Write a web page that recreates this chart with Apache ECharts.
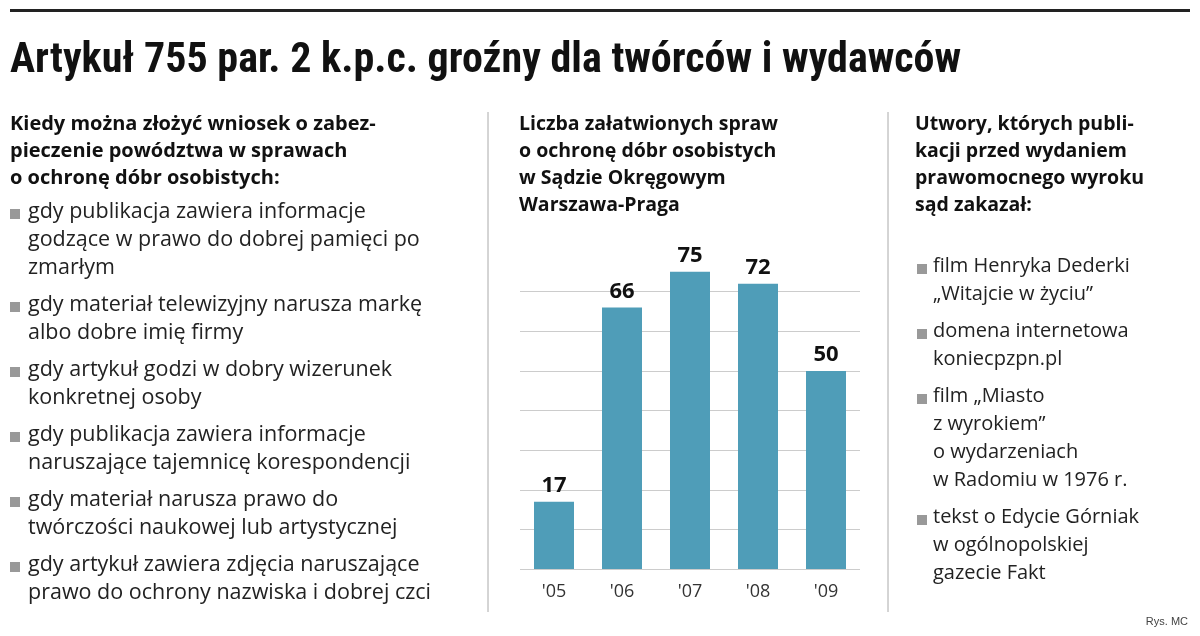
<!DOCTYPE html><html><head><meta charset="utf-8"><script src="https://cdn.jsdelivr.net/npm/echarts@6/dist/echarts.min.js"></script>
<style>html,body{margin:0;background:#fff}#c{width:1200px;height:636px}</style></head><body><div id="c"></div><script>
const categories=["'05","'06","'07","'08","'09"];
const values=[17,66,75,72,50];
const title="Artykuł 755 par. 2 k.p.c. groźny dla twórców i wydawców";
const leftHead=["Kiedy można złożyć wniosek o zabez-","pieczenie powództwa w sprawach","o ochronę dóbr osobistych:"];
const leftItems=[["gdy publikacja zawiera informacje","godzące w prawo do dobrej pamięci po","zmarłym"],["gdy materiał telewizyjny narusza markę","albo dobre imię firmy"],["gdy artykuł godzi w dobry wizerunek","konkretnej osoby"],["gdy publikacja zawiera informacje","naruszające tajemnicę korespondencji"],["gdy materiał narusza prawo do","twórczości naukowej lub artystycznej"],["gdy artykuł zawiera zdjęcia naruszające","prawo do ochrony nazwiska i dobrej czci"]];
const midHead=["Liczba załatwionych spraw","o ochronę dóbr osobistych","w Sądzie Okręgowym","Warszawa-Praga"];
const rightHead=["Utwory, których publi-","kacji przed wydaniem","prawomocnego wyroku","sąd zakazał:"];
const rightItems=[["film Henryka Dederki","„Witajcie w życiu”"],["domena internetowa","koniecpzpn.pl"],["film „Miasto","z wyrokiem”","o wydarzeniach","w Radomiu w 1976 r."],["tekst o Edycie Górniak","w ogólnopolskiej","gazecie Fakt"]];
const F='"Liberation Sans Narrow","Roboto Condensed","Roboto",sans-serif';
const g=[];
g.push({type:'rect',shape:{x:10,y:9,width:1180,height:3},style:{fill:'#222'}});
g.push({type:'text',left:10,top:40,style:{text:title,font:'bold 42px '+F,fill:'#111'}});
g.push({type:'line',shape:{x1:488,y1:112,x2:488,y2:612},style:{stroke:'#aaa',lineWidth:1}});
g.push({type:'line',shape:{x1:888,y1:112,x2:888,y2:612},style:{stroke:'#aaa',lineWidth:1}});
function head(lines,x,y0,size){lines.forEach((t,i)=>g.push({type:'text',left:x,top:y0+i*27,style:{text:t,font:'bold '+size+'px "Open Sans",sans-serif',fill:'#111'}}));}
head(leftHead,10,114,20);head(midHead,519,114,19.5);head(rightHead,915,114,19.5);
function items(list,xs,xt,y0,gap,size){let y=y0;list.forEach(l=>{g.push({type:'rect',shape:{x:xs,y:y+8,width:10,height:10},style:{fill:'#999'}});l.forEach((t,i)=>g.push({type:'text',left:xt,top:y+i*28,style:{text:t,font:size+'px "Open Sans",sans-serif',fill:'#222'}}));y+=l.length*28+gap;});}
items(leftItems,10,28,201,9,21.5);items(rightItems,917,933,256,9,20);
g.push({type:'text',right:12,top:616,style:{text:'Rys. MC',font:'11px sans-serif',fill:'#444'}});
const ch=echarts.init(document.getElementById('c'));
ch.setOption({animation:false,graphic:g,
grid:{left:520,right:340,top:252,bottom:67},
xAxis:{type:'category',data:categories,axisLine:{show:false},axisTick:{show:false},axisLabel:{fontSize:18,color:'#333',margin:14,fontFamily:'Open Sans'}},
yAxis:{type:'value',min:0,max:80,interval:10,axisLabel:{show:false},axisLine:{show:false},axisTick:{show:false},splitLine:{lineStyle:{color:['#ccc','#ccc','#ccc','#ccc','#ccc','#ccc','#ccc','#ccc','rgba(0,0,0,0)']}}},
series:[{type:'bar',data:values,barWidth:40,itemStyle:{color:'#4f9db8'},label:{show:true,position:'top',fontSize:22,fontWeight:'bold',color:'#111',fontFamily:'Open Sans'}}]});
</script></body></html>
